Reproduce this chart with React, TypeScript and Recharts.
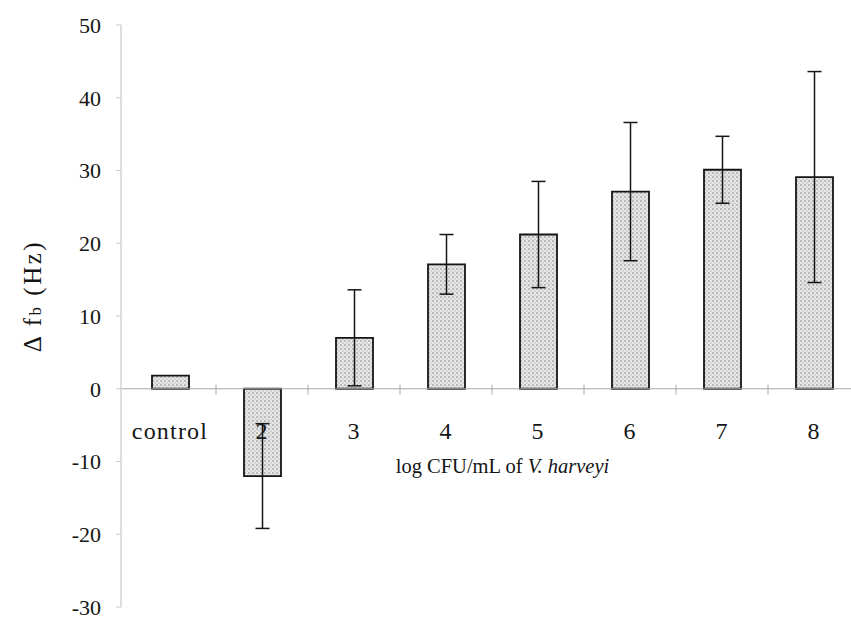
import React from 'react';
import { BarChart, Bar, XAxis, YAxis, ErrorBar, ReferenceLine } from 'recharts';

// frequency shift per inoculum level
const categories = ['control', '2', '3', '4', '5', '6', '7', '8'];
const deltaFb = [1.8, -12.0, 7.0, 17.1, 21.2, 27.1, 30.1, 29.1];
const errorHz = [0, 7.2, 6.6, 4.1, 7.3, 9.5, 4.6, 14.5];
const yTicks = [-30, -20, -10, 0, 10, 20, 30, 40, 50];

const data = categories.map((name, i) => ({ name, value: deltaFb[i], err: errorHz[i] }));

const W = 862;
const H = 621;
const X_AXIS_H = 1;
const margin = { top: 25, right: 2, bottom: 13, left: 0 };
const Y_AXIS_W = 121;
const PAD_LEFT = 3;
const Y_MIN = -30;
const Y_MAX = 50;
const plotH = H - margin.top - margin.bottom - X_AXIS_H;
const bandW = (W - margin.left - margin.right - Y_AXIS_W - PAD_LEFT) / categories.length;
// the category axis sits on zero, not on the bottom of the plot
const zeroLift = (plotH * (0 - Y_MIN)) / (Y_MAX - Y_MIN);
const FONT = '"Liberation Serif", "Times New Roman", serif';

const renderCategoryTick = (props: any) => {
  const { x, y, payload } = props;
  const y0 = y - zeroLift;
  const edge = x - bandW / 2;
  return (
    <g key={`cat-${payload.value}`}>
      {edge > Y_AXIS_W + 10 && (
        <line x1={edge} x2={edge} y1={y0 - 4} y2={y0 + 6} stroke="#aaaaaa" strokeWidth={1} />
      )}
      <text x={x} y={y0 + 50} textAnchor="middle" fontFamily={FONT} fontSize={24} letterSpacing={1.2} fill="#151515">
        {payload.value}
      </text>
    </g>
  );
};

const renderXTitle = (props: any) => {
  const vb = props.viewBox || {};
  const cx = vb.x + vb.width / 2 + 12;
  const y = vb.y - zeroLift + 84;
  return (
    <text x={cx} y={y} textAnchor="middle" fontFamily={FONT} fontSize={20.5} fill="#151515">
      log CFU/mL of <tspan fontStyle="italic">V. harveyi</tspan>
    </text>
  );
};

const renderYTitle = () => (
  <text
    transform="translate(41,296) rotate(-90)"
    textAnchor="middle"
    fontFamily={FONT}
    fontSize={25}
    letterSpacing={2.5}
    fill="#151515"
  >
    Δ f<tspan fontSize={17}>b</tspan> (Hz)
  </text>
);

export default function App() {
  return (
    <div style={{ position: 'absolute', left: 0, top: 0, width: 851, height: 621, overflow: 'hidden', background: '#fff' }}>
      <svg width={0} height={0} style={{ position: 'absolute' }}>
        <defs>
          <pattern id="stipple" width={4} height={4} patternUnits="userSpaceOnUse">
            <rect width={4} height={4} fill="#e6e6e6" />
            <circle cx={1} cy={1} r={0.75} fill="#7a7a7a" />
            <circle cx={3} cy={3} r={0.6} fill="#9a9a9a" />
          </pattern>
        </defs>
      </svg>
      <BarChart width={W} height={H} data={data} margin={margin}>
        <XAxis
          dataKey="name"
          axisLine={false}
          tickLine={false}
          height={X_AXIS_H}
          tickSize={0}
          tickMargin={0}
          interval={0}
          padding={{ left: PAD_LEFT, right: 0 }}
          tick={renderCategoryTick}
          label={{ content: renderXTitle }}
        />
        <YAxis
          width={Y_AXIS_W}
          domain={[Y_MIN, Y_MAX]}
          ticks={yTicks}
          interval={0}
          axisLine={{ stroke: '#c9c9c9', strokeWidth: 1.2 }}
          tickLine={{ stroke: '#c9c9c9' }}
          tickSize={5}
          tickMargin={15}
          tick={{ fontFamily: FONT, fontSize: 22, fill: '#151515' }}
          label={{ content: renderYTitle }}
        />
        <ReferenceLine y={0} stroke="#a8a8a8" strokeWidth={1.2} />
        <Bar
          dataKey="value"
          fill="url(#stipple)"
          stroke="#151515"
          strokeWidth={1.8}
          barSize={37}
          isAnimationActive={false}
        >
          <ErrorBar dataKey="err" width={7} stroke="#151515" strokeWidth={1.5} direction="y" isAnimationActive={false} />
        </Bar>
      </BarChart>
    </div>
  );
}
